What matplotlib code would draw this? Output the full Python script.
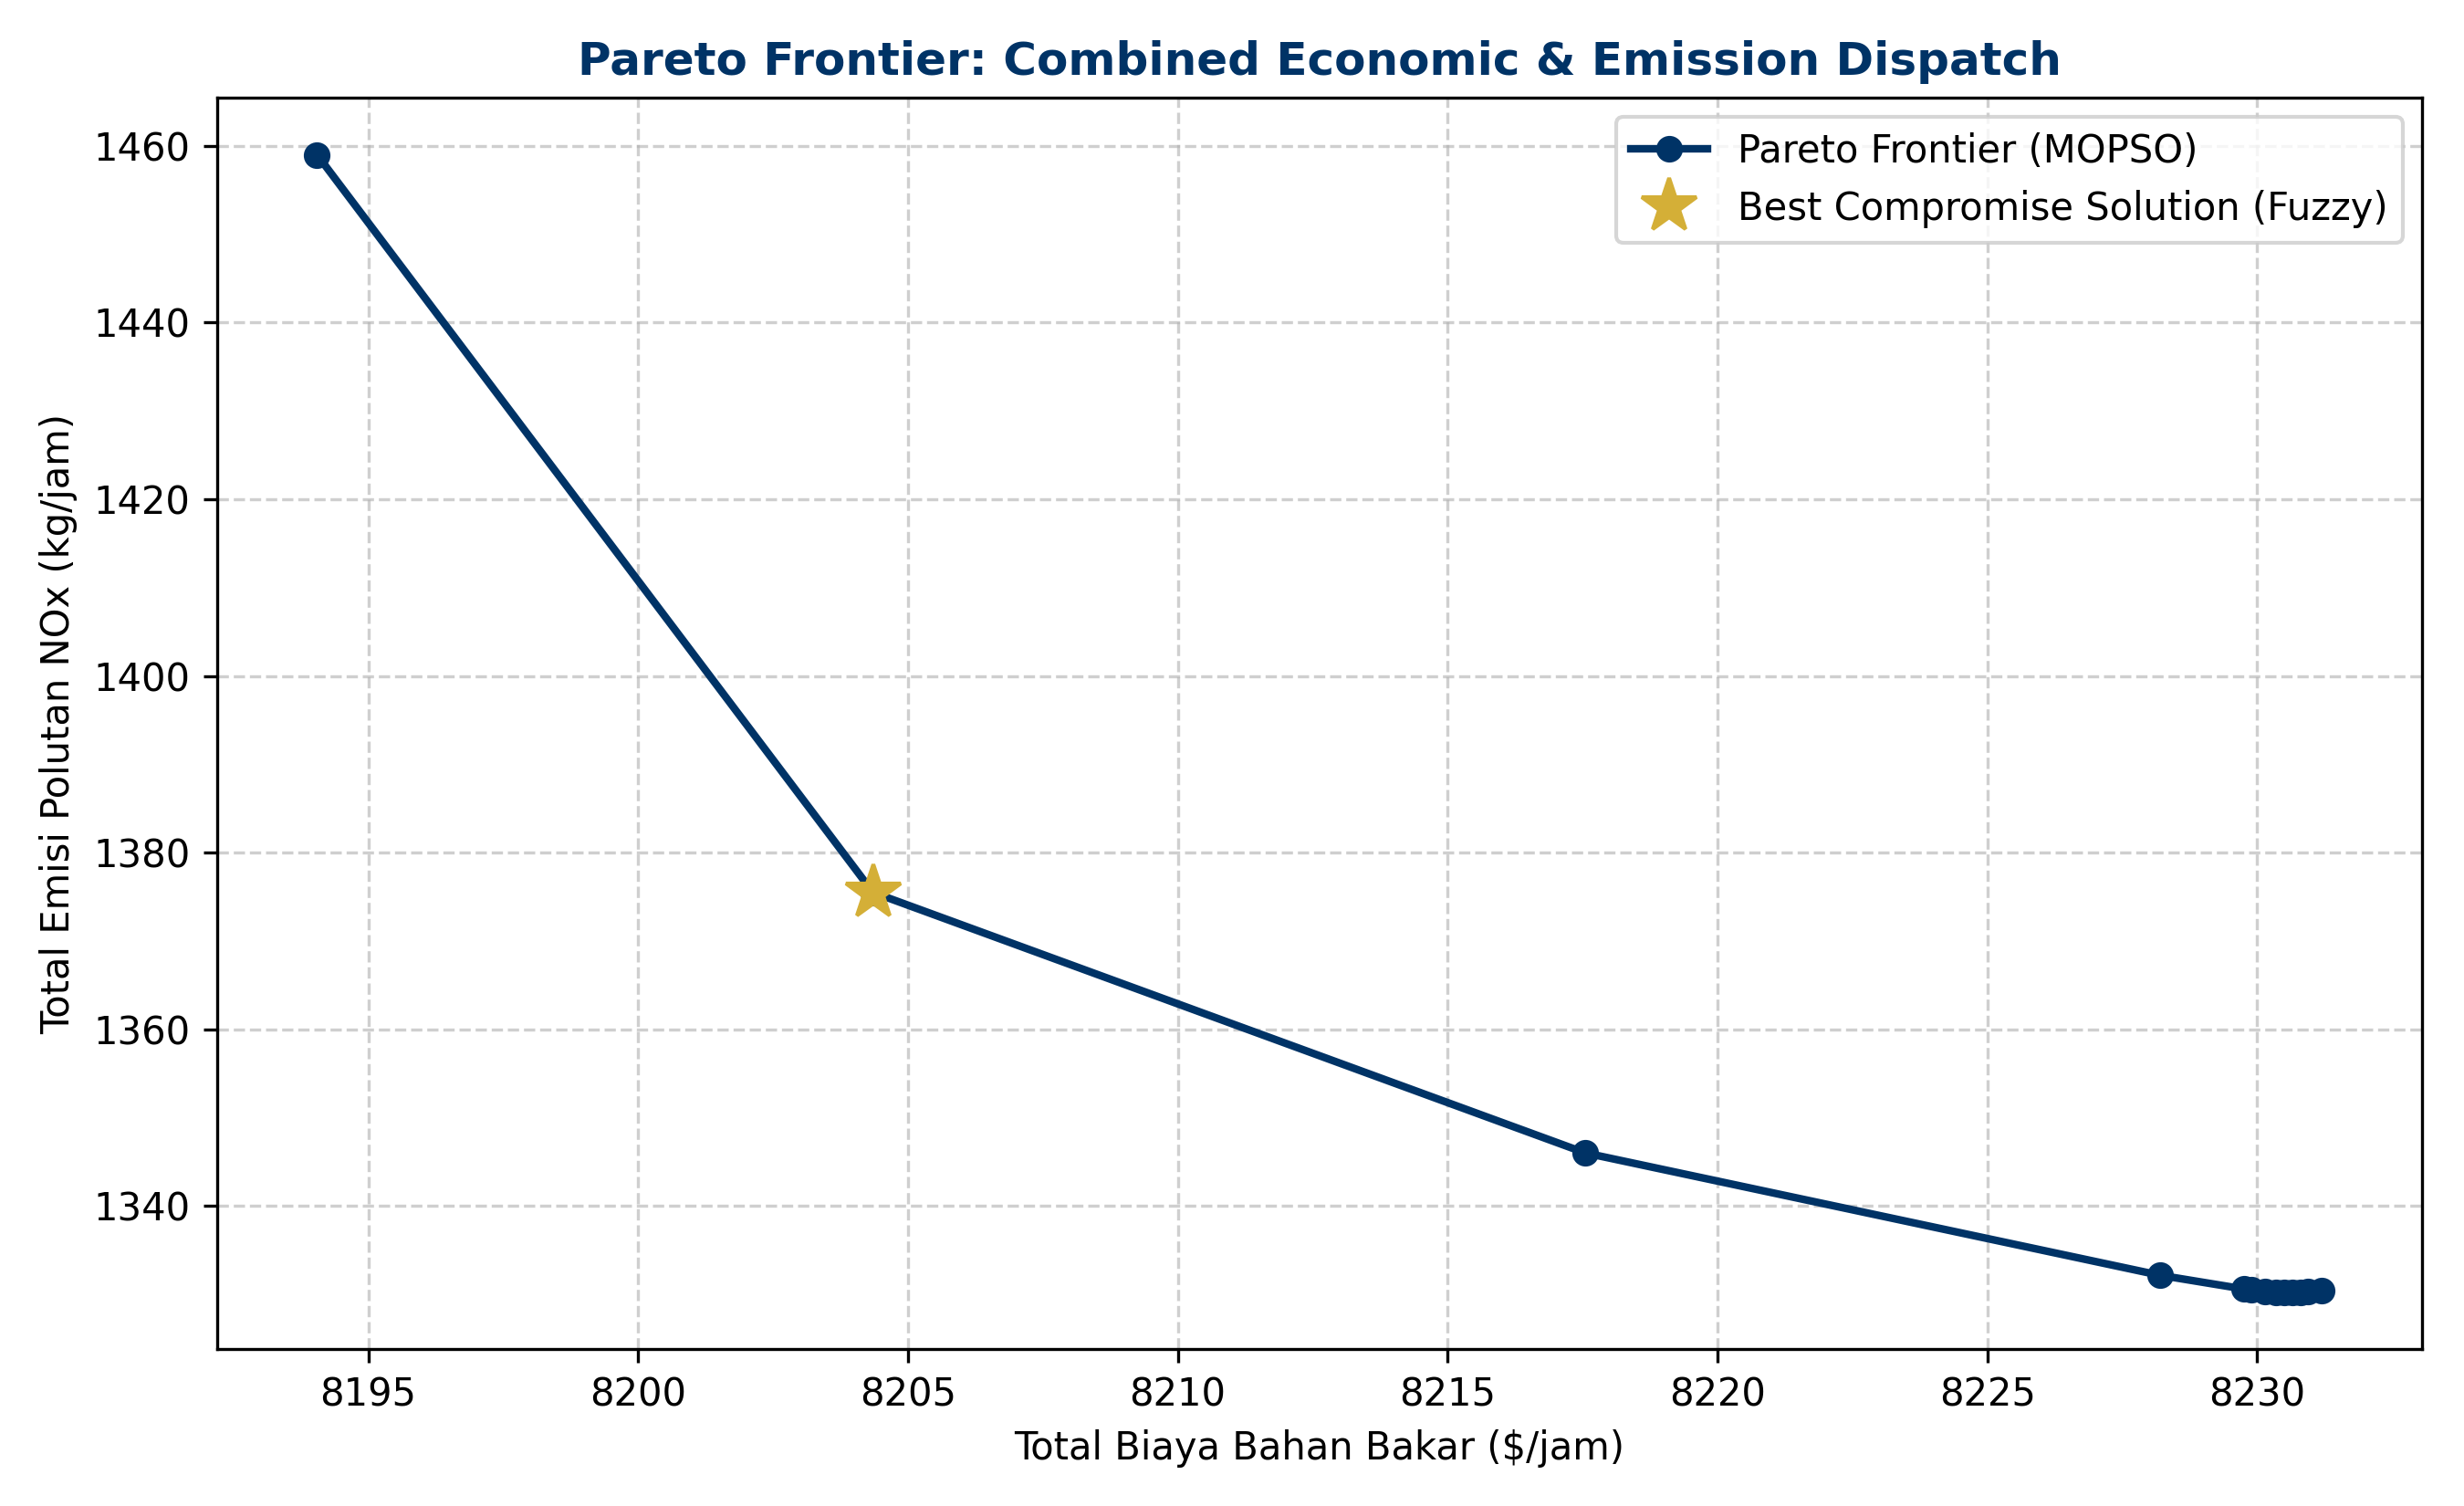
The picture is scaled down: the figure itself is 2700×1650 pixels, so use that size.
import matplotlib
matplotlib.use('Agg')
import matplotlib.pyplot as plt

# Pareto front from MOPSO (cost $/jam, NOx kg/jam)
biaya = [8194.05, 8204.35, 8217.55, 8228.2, 8229.75, 8229.9, 8230.15,
         8230.35, 8230.5, 8230.65, 8230.8, 8230.95, 8231.2]
emisi = [1459.0, 1375.5, 1346.0, 1332.15, 1330.6, 1330.5, 1330.35,
         1330.25, 1330.2, 1330.2, 1330.25, 1330.3, 1330.45]

# best compromise (fuzzy)
best_biaya = 8204.35
best_emisi = 1375.5

NAVY = '#003366'
GOLD = '#D4AF37'


def main():
    fig, ax = plt.subplots(figsize=(9, 5.5), dpi=300)
    fig.subplots_adjust(left=0.088, right=0.983, bottom=0.104, top=0.935)

    ax.plot(biaya, emisi, '-o', color=NAVY, linewidth=2, markersize=6,
            label='Pareto Frontier (MOPSO)')
    ax.plot(best_biaya, best_emisi, '*', color=GOLD, markersize=15,
            linestyle='none', label='Best Compromise Solution (Fuzzy)')

    ax.set_title('Pareto Frontier: Combined Economic & Emission Dispatch',
                 fontsize=12, fontweight='bold', color=NAVY)
    ax.set_xlabel('Total Biaya Bahan Bakar ($/jam)')
    ax.set_ylabel('Total Emisi Polutan NOx (kg/jam)')
    ax.grid(True, linestyle='--', alpha=0.6)
    ax.legend(loc='upper right')

    fig.savefig('out.png', dpi=300)
    plt.close(fig)


if __name__ == "__main__":
    main()
